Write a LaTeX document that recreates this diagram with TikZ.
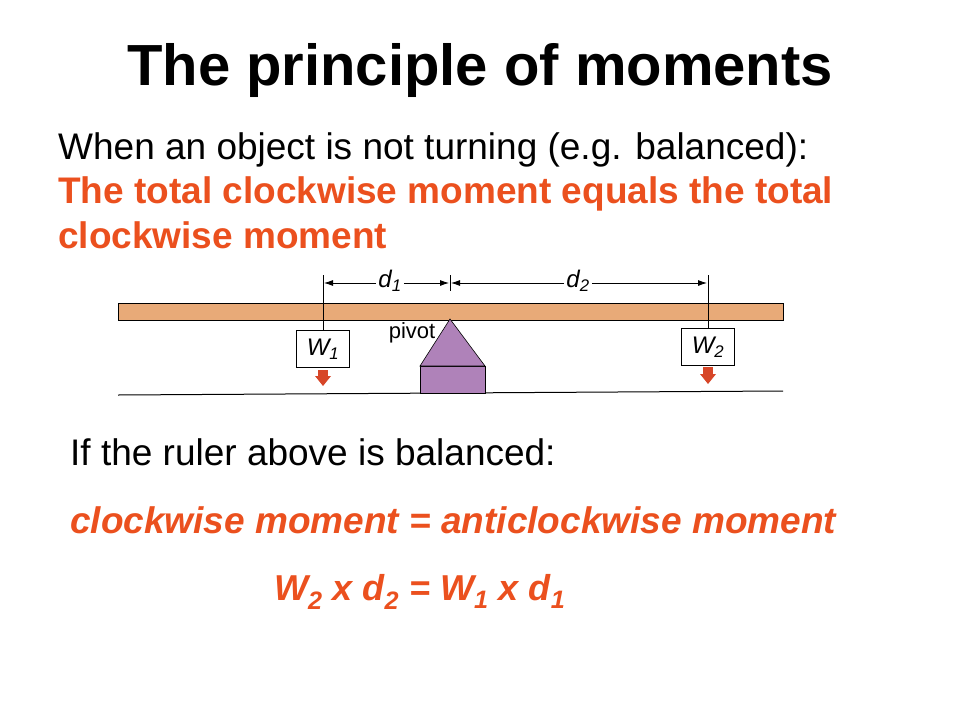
\documentclass[tikz,border=0pt]{standalone}
\usepackage{fontspec}
\setmainfont{Liberation Sans}
\usetikzlibrary{arrows.meta}
\definecolor{red1}{RGB}{235,80,30}
\definecolor{rul}{RGB}{232,170,120}
\definecolor{piv}{RGB}{175,130,185}
\definecolor{arr}{RGB}{215,70,40}
\tikzset{txt/.style={anchor=base west,inner sep=0pt,font=\fontsize{37}{42}\selectfont},
 rtxt/.style={txt,text=red1,font=\bfseries\fontsize{37}{42}\selectfont},
 wbox/.style={draw,fill=white,minimum width=53pt,minimum height=37pt,inner sep=0pt,font=\fontsize{24}{28}\selectfont\itshape},
 dlab/.style={font=\fontsize{24}{28}\selectfont\itshape,inner sep=2pt},
 dimarr/.style={-{Latex[length=9pt,width=6pt]},line width=0.8pt},
 redarr/.style={fill=arr,draw=none}}
\begin{document}
\begin{tikzpicture}[x=1pt,y=-1pt]
\useasboundingbox (0,0) rectangle (960,720);
\node[font=\bfseries\fontsize{58}{64}\selectfont,anchor=base] (title) at (480,85) {The principle of moments};
\node[txt] (l1) at (58,159) {When an object is not turning (e.g. balanced):};
\node[rtxt] (l2) at (58,203) {The total clockwise moment equals the total};
\node[rtxt] (l3) at (58,248) {clockwise moment};
% diagram
\fill[rul,draw=black,line width=0.8pt] (118,303) rectangle (783,320);
\draw[line width=1pt] (118,395) -- (783,391);
\fill[piv,draw=black,line width=0.6pt] (420,366) rectangle (485,393);
\fill[piv,draw=black,line width=0.6pt] (450,319) -- (485,366) -- (420,366) -- cycle;
\node[wbox] (w1) at (323,349) {W\textsubscript{1}};
\node[wbox] (w2) at (708,347) {W\textsubscript{2}};
\coordinate (t1) at (323,275);
\coordinate (t0) at (450,275);
\coordinate (t2) at (708,275);
\draw (t1) -- (w1.north);
\draw (t2) -- (w2.north);
\draw (t0) -- ++(0,16);
\node[dlab] (d1) at (390,281) {d\textsubscript{1}};
\node[dlab] (d2) at (578,281) {d\textsubscript{2}};
\draw[dimarr] (d1.west|-0,283) -- (324,283);
\draw[dimarr] (d1.east|-0,283) -- (449,283);
\draw[dimarr] (d2.west|-0,283) -- (451,283);
\draw[dimarr] (d2.east|-0,283) -- (707,283);
\node[font=\fontsize{22}{26}\selectfont] (pv) at (412,333) {pivot};
\fill[redarr] (318,370) rectangle (328,376);
\fill[redarr] (315,376) -- (331,376) -- (323,386) -- cycle;
\fill[redarr] (703,367) rectangle (713,374);
\fill[redarr] (700,374) -- (716,374) -- (708,384) -- cycle;
\node[txt] (l4) at (70,465) {If the ruler above is balanced:};
\node[txt,text=red1,font=\bfseries\itshape\fontsize{37}{42}\selectfont] (l5) at (70,533) {clockwise moment = anticlockwise moment};
\node[txt,text=red1,font=\bfseries\itshape\fontsize{36}{42}\selectfont] (l6) at (274,600) {W\textsubscript{2} x d\textsubscript{2} = W\textsubscript{1} x d\textsubscript{1}};
\end{tikzpicture}
\end{document}
